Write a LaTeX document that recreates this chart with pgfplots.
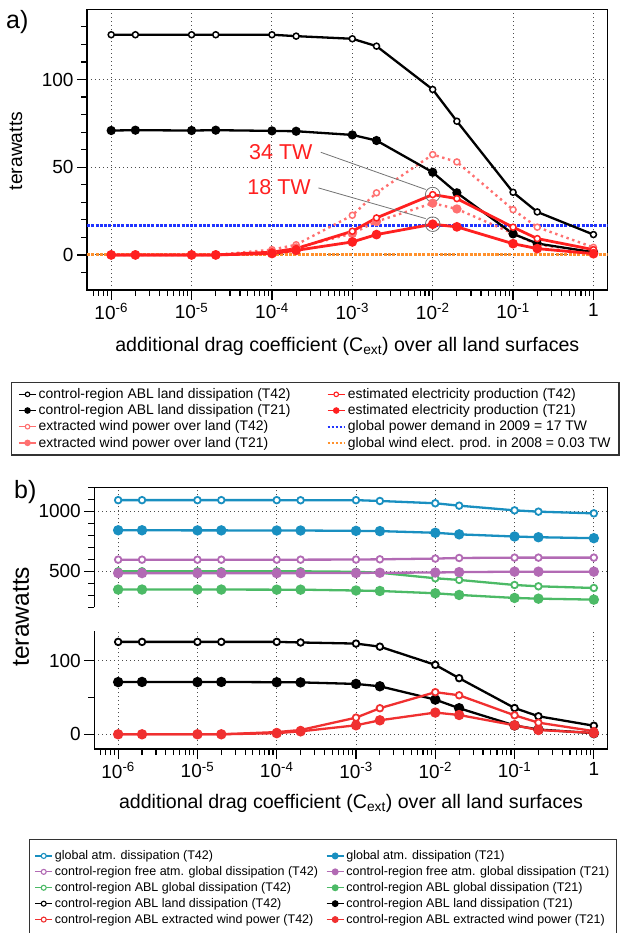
\documentclass[border=0pt]{standalone}
\usepackage{fontspec}
\setmainfont{Liberation Sans}
\usepackage{pgfplots}
\usepackage{pgfplotstable}
\pgfplotsset{compat=1.18}

\definecolor{cred}{RGB}{255,32,32}
\definecolor{cpink}{RGB}{255,112,112}
\definecolor{cdblue}{RGB}{32,52,255}
\definecolor{corange}{RGB}{255,145,45}
\definecolor{cblue}{RGB}{25,143,192}
\definecolor{cpurple}{RGB}{178,106,180}
\definecolor{cgreen}{RGB}{76,186,102}
\definecolor{cbred}{RGB}{240,48,48}

% land dissipation, electricity, extracted power (TW); A = T42, B = T21
\pgfplotstableread{
x     ctlA   ctlB  elA   elB   exA   exB
1e-6  125.5  70.9  0     0     0     0
2e-6  125.5  71.1  0     0     0     0
1e-5  125.5  70.9  0     0     0     0
2e-5  125.5  71.1  0     0     0     0
1e-4  125.5  70.7  1.6   0.8   3.0   1.5
2e-4  124.7  70.5  3.6   2.6   5.8   4.0
1e-3  123.2  68.4  13.5  7.4   22.6  12.2
2e-3  119.0  65.2  21.1  11.6  35.4  19.0
1e-2  94.3   47.1  34.4  17.5  57.2  29.5
2e-2  76.2   35.4  32.1  16.0  53.0  26.2
1e-1  35.7   12.0  15.8  6.4   25.8  12.2
2e-1  24.5   6.5   9.3   3.6   15.8  5.8
1     11.6   1.5   3.0   0.7   4.3   1.8
}\tabland

% global / free atm. / ABL global dissipation (TW)
\pgfplotstableread{
x     gA    gB   fA   fB   aA   aB
1e-6  1093  842  597  485  500  348
2e-6  1093  842  597  485  500  348
1e-5  1093  841  597  485  500  348
2e-5  1093  841  597  485  500  348
1e-4  1093  840  597  485  500  347
2e-4  1092  840  597  485  500  347
1e-3  1093  837  598  486  496  340
2e-3  1086  835  600  488  488  336
1e-2  1067  821  606  490  442  317
2e-2  1047  808  611  493  428  303
1e-1  1008  790  614  497  386  278
2e-1  997   784  614  497  375  272
1     983   776  614  497  361  264
}\tabglob

\newcommand\fsz[1]{\fontsize{#1}{#1}\selectfont}

\begin{document}
\begin{tikzpicture}
\useasboundingbox (0,0) rectangle (625pt,-933pt);

% ---------------- panel a ----------------
\begin{axis}[name=pa,
  at={(87pt,-290pt)}, anchor=south west, scale only axis, width=520.6pt, height=280.7pt,
  xmode=log, xmin=5e-7, xmax=1.5,
  tick align=outside, tick pos=left,
  major tick length=10pt, minor tick length=6pt,
  every tick/.append style={black, line width=1.2pt},
  axis line style={line width=1.3pt},
  grid=major,
  grid style={black!70, line width=0.9pt, dash pattern=on 1pt off 3pt},
  xtick={1e-6,1e-5,1e-4,1e-3,1e-2,1e-1,1},
  xticklabels={10\textsuperscript{-6},10\textsuperscript{-5},10\textsuperscript{-4},10\textsuperscript{-3},10\textsuperscript{-2},10\textsuperscript{-1},1},
  minor xtick={6e-7,7e-7,8e-7,9e-7,
    2e-6,3e-6,4e-6,5e-6,6e-6,7e-6,8e-6,9e-6,
    2e-5,3e-5,4e-5,5e-5,6e-5,7e-5,8e-5,9e-5,
    2e-4,3e-4,4e-4,5e-4,6e-4,7e-4,8e-4,9e-4,
    2e-3,3e-3,4e-3,5e-3,6e-3,7e-3,8e-3,9e-3,
    2e-2,3e-2,4e-2,5e-2,6e-2,7e-2,8e-2,9e-2,
    0.2,0.3,0.4,0.5,0.6,0.7,0.8,0.9},
  /pgf/number format/assume math mode=true,
  /pgf/number format/1000 sep={},
  tick label style={font=\fsz{19}},
  ymin=-20, ymax=140, ytick={0,50,100},
  minor ytick={-10,10,20,30,40,60,70,80,90,110,120,130},
  xlabel={additional drag coefficient (C\textsubscript{ext}) over all land surfaces},
  xlabel style={font=\fsz{19.6}, at={(axis description cs:0.5,-0.2173)}, anchor=base},
  ylabel=terawatts,
  ylabel style={font=\fsz{19.3}, at={(axis description cs:-0.1364,0.495)}, anchor=center},
  legend columns=2, legend cell align=left,
  legend style={at={(axis description cs:-0.1456,-0.3267)}, anchor=north west,
    draw=black!80, line width=1.3pt, inner xsep=6.5pt, inner ysep=4.2pt,
    row sep=0.6pt, font=\fsz{13.9},
    /tikz/every even column/.append style={column sep=34pt}},
]
\addplot[cdblue, line width=3pt, dash pattern=on 3pt off 1.3pt, forget plot] coordinates {(5e-7,17) (1.5,17)};
\addplot[corange, line width=3pt, dash pattern=on 3pt off 1.3pt, forget plot] coordinates {(5e-7,0.03) (1.5,0.03)};
\addplot[cpink, line width=2.4pt, dash pattern=on 2.4pt off 3.6pt, mark=*, mark size=3pt, mark options={solid, fill=white, line width=1.5pt}, forget plot] table[x=x, y=exA]{\tabland};
\addplot[cpink, line width=2.4pt, dash pattern=on 2.4pt off 3.6pt, mark=*, mark size=3.4pt, mark options={solid}, forget plot] table[x=x, y=exB]{\tabland};
\addplot[black, line width=2.3pt, mark=*, mark size=3pt, mark options={fill=white, line width=1.5pt}, forget plot] table[x=x, y=ctlA]{\tabland};
\addplot[black, line width=2.3pt, mark=*, mark size=3.4pt, forget plot] table[x=x, y=ctlB]{\tabland};
\addplot[cred, line width=2.8pt, mark=*, mark size=3pt, mark options={fill=white, line width=1.5pt}, forget plot] table[x=x, y=elA]{\tabland};
\addplot[cred, line width=2.8pt, mark=*, mark size=3.4pt, forget plot] table[x=x, y=elB]{\tabland};

% annotation of the T42 / T21 electricity peaks
\draw[black!55, line width=0.8pt] (axis cs:0.01,34.4) circle[radius=7.3pt];
\draw[black!55, line width=0.8pt] (axis cs:0.01,17.5) circle[radius=7.3pt];
\draw[black!55, line width=0.8pt] (axis cs:4.05e-4,58.5) -- (axis cs:8.18e-3,37.3);
\draw[black!55, line width=0.8pt] (axis cs:3.78e-4,38.2) -- (axis cs:8.18e-3,20.7);
\node[cred, anchor=east, inner sep=0pt, font=\fsz{21.5}] at (axis cs:3.22e-4,58.7) {34 TW};
\node[cred, anchor=east, inner sep=0pt, font=\fsz{21.5}] at (axis cs:3.06e-4,38.8) {18 TW};

\addlegendimage{black, line width=1.3pt, mark=*, mark size=2.3pt, mark options={fill=white, line width=1.1pt}}
\addlegendentry{control-region ABL land dissipation (T42)}
\addlegendimage{cred, line width=1.3pt, mark=*, mark size=2.3pt, mark options={fill=white, line width=1.1pt}}
\addlegendentry{estimated electricity production (T42)}
\addlegendimage{black, line width=1.3pt, mark=*, mark size=2.6pt}
\addlegendentry{control-region ABL land dissipation (T21)}
\addlegendimage{cred, line width=1.3pt, mark=*, mark size=2.6pt}
\addlegendentry{estimated electricity production (T21)}
\addlegendimage{cpink, line width=1.3pt, mark=*, mark size=2.3pt, mark options={fill=white, line width=1.1pt}}
\addlegendentry{extracted wind power over land (T42)}
\addlegendimage{cdblue, line width=2.2pt, dash pattern=on 2pt off 2pt}
\addlegendentry{global power demand in 2009 = 17 TW}
\addlegendimage{cpink, line width=1.3pt, mark=*, mark size=2.6pt}
\addlegendentry{extracted wind power over land (T21)}
\addlegendimage{corange, line width=2.2pt, dash pattern=on 2pt off 2pt}
\addlegendentry{global wind elect. prod. in 2008 = 0.03 TW}
\end{axis}
\node[anchor=base west, inner sep=0pt, font=\fsz{25}] at (6pt,-28.3pt) {a)};

% ---------------- panel b, upper part ----------------
\begin{axis}[name=pbu,
  at={(94.3pt,-607.3pt)}, anchor=south west, scale only axis, width=513.5pt, height=120pt,
  xmode=log, xmin=5e-7, xmax=1.5,
  tick align=outside, tick pos=left,
  major tick length=10pt, minor tick length=6pt,
  every tick/.append style={black, line width=1.2pt},
  axis line style={draw=none},
  grid=major,
  grid style={black!70, line width=0.9pt, dash pattern=on 1pt off 3pt},
  xtick={1e-6,1e-5,1e-4,1e-3,1e-2,1e-1,1}, xticklabels={},
  xtick style={draw=none},
  /pgf/number format/assume math mode=true,
  /pgf/number format/1000 sep={},
  tick label style={font=\fsz{19}},
  ymin=200, ymax=1200, ytick={500,1000},
  minor ytick={200,300,400,600,700,800,900,1100,1200},
]
\addplot[cgreen, line width=2.3pt, mark=*, mark size=3.3pt, mark options={fill=white, line width=1.8pt}] table[x=x, y=aA]{\tabglob};
\addplot[cgreen, line width=2.3pt, mark=*, mark size=4pt] table[x=x, y=aB]{\tabglob};
\addplot[cpurple, line width=2.3pt, mark=*, mark size=3.3pt, mark options={fill=white, line width=1.8pt}] table[x=x, y=fA]{\tabglob};
\addplot[cpurple, line width=2.3pt, mark=*, mark size=4pt] table[x=x, y=fB]{\tabglob};
\addplot[cblue, line width=2.3pt, mark=*, mark size=3.3pt, mark options={fill=white, line width=1.8pt}] table[x=x, y=gA]{\tabglob};
\addplot[cblue, line width=2.3pt, mark=*, mark size=4pt] table[x=x, y=gB]{\tabglob};
\end{axis}

% ---------------- panel b, lower part ----------------
\begin{axis}[name=pbl,
  at={(94.3pt,-749pt)}, anchor=south west, scale only axis, width=513.5pt, height=117.8pt,
  xmode=log, xmin=5e-7, xmax=1.5,
  tick align=outside, tick pos=left,
  major tick length=10pt, minor tick length=6pt,
  every tick/.append style={black, line width=1.2pt},
  axis line style={draw=none},
  grid=major,
  grid style={black!70, line width=0.9pt, dash pattern=on 1pt off 3pt},
  xtick={1e-6,1e-5,1e-4,1e-3,1e-2,1e-1,1},
  xticklabels={10\textsuperscript{-6},10\textsuperscript{-5},10\textsuperscript{-4},10\textsuperscript{-3},10\textsuperscript{-2},10\textsuperscript{-1},1},
  minor xtick={6e-7,7e-7,8e-7,9e-7,
    2e-6,3e-6,4e-6,5e-6,6e-6,7e-6,8e-6,9e-6,
    2e-5,3e-5,4e-5,5e-5,6e-5,7e-5,8e-5,9e-5,
    2e-4,3e-4,4e-4,5e-4,6e-4,7e-4,8e-4,9e-4,
    2e-3,3e-3,4e-3,5e-3,6e-3,7e-3,8e-3,9e-3,
    2e-2,3e-2,4e-2,5e-2,6e-2,7e-2,8e-2,9e-2,
    0.2,0.3,0.4,0.5,0.6,0.7,0.8,0.9},
  /pgf/number format/assume math mode=true,
  /pgf/number format/1000 sep={},
  tick label style={font=\fsz{19}},
  ymin=-20, ymax=140, ytick={0,100}, minor ytick={50},
  xlabel={additional drag coefficient (C\textsubscript{ext}) over all land surfaces},
  xlabel style={font=\fsz{19.6}, at={(axis description cs:0.5,-0.5008)}, anchor=base},
  ylabel=terawatts,
  ylabel style={font=\fsz{24.6}, at={(axis description cs:-0.1427,1.123)}, anchor=center},
  legend columns=2, legend cell align=left,
  legend style={at={(axis description cs:-0.127,-0.764)}, anchor=north west,
    draw=black!80, line width=1.3pt, inner xsep=4.8pt, inner ysep=9pt,
    row sep=1.35pt, font=\fsz{12.5},
    /tikz/every even column/.append style={column sep=6pt}},
]
\addplot[black, line width=2.3pt, mark=*, mark size=3.3pt, mark options={fill=white, line width=1.8pt}, forget plot] table[x=x, y=ctlA]{\tabland};
\addplot[black, line width=2.3pt, mark=*, mark size=4pt, forget plot] table[x=x, y=ctlB]{\tabland};
\addplot[cbred, line width=2.3pt, mark=*, mark size=3.3pt, mark options={fill=white, line width=1.8pt}, forget plot] table[x=x, y=exA]{\tabland};
\addplot[cbred, line width=2.3pt, mark=*, mark size=4pt, forget plot] table[x=x, y=exB]{\tabland};

\addlegendimage{cblue, line width=1.3pt, mark=*, mark size=2.5pt, mark options={fill=white, line width=1.1pt}}
\addlegendentry{global atm. dissipation (T42)}
\addlegendimage{cblue, line width=1.3pt, mark=*, mark size=2.8pt}
\addlegendentry{global atm. dissipation (T21)}
\addlegendimage{cpurple, line width=1.3pt, mark=*, mark size=2.5pt, mark options={fill=white, line width=1.1pt}}
\addlegendentry{control-region free atm. global dissipation (T42)}
\addlegendimage{cpurple, line width=1.3pt, mark=*, mark size=2.8pt}
\addlegendentry{control-region free atm. global dissipation (T21)}
\addlegendimage{cgreen, line width=1.3pt, mark=*, mark size=2.5pt, mark options={fill=white, line width=1.1pt}}
\addlegendentry{control-region ABL global dissipation (T42)}
\addlegendimage{cgreen, line width=1.3pt, mark=*, mark size=2.8pt}
\addlegendentry{control-region ABL global dissipation (T21)}
\addlegendimage{black, line width=1.3pt, mark=*, mark size=2.5pt, mark options={fill=white, line width=1.1pt}}
\addlegendentry{control-region ABL land dissipation (T42)}
\addlegendimage{black, line width=1.3pt, mark=*, mark size=2.8pt}
\addlegendentry{control-region ABL land dissipation (T21)}
\addlegendimage{cbred, line width=1.3pt, mark=*, mark size=2.5pt, mark options={fill=white, line width=1.1pt}}
\addlegendentry{control-region ABL extracted wind power (T42)}
\addlegendimage{cbred, line width=1.3pt, mark=*, mark size=2.8pt}
\addlegendentry{control-region ABL extracted wind power (T21)}
\end{axis}

% broken frame of panel b
\draw[line width=1.3pt] (pbu.south west) -- (pbu.north west) -- (pbu.north east)
  -- (pbl.south east) -- (pbl.south west) -- (pbl.north west);
\node[anchor=base west, inner sep=0pt, font=\fsz{25}] at (14pt,-498pt) {b)};
\end{tikzpicture}
\end{document}
